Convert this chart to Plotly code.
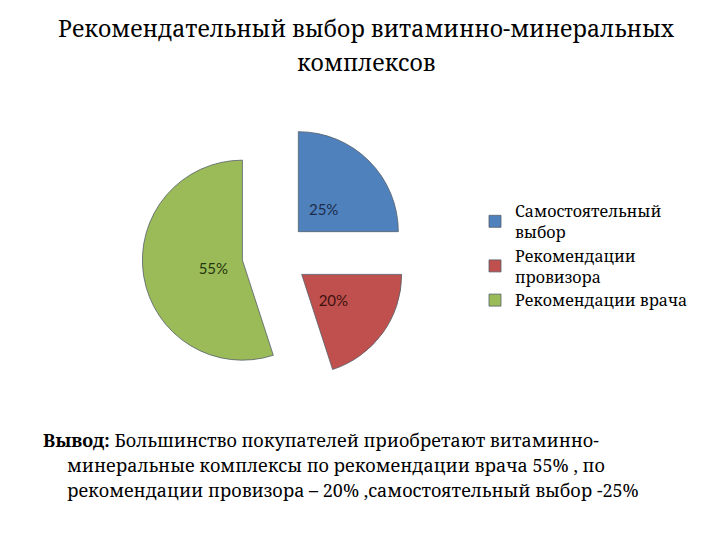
import plotly.graph_objects as go

# slice data
labels = ["Самостоятельный<br>выбор", "Рекомендации<br>провизора", "Рекомендации врача"]
shares = [25, 20, 55]
colors = ["#4F81BD", "#C0504D", "#9BBB59"]
text_colors = ["#1C2C4A", "#3E1010", "#26360C"]

title_lines = ["Рекомендательный выбор витаминно-минеральных", "комплексов"]
conclusion_lines = [
    "<b>Вывод:</b> Большинство покупателей приобретают витаминно-",
    "минеральные комплексы по рекомендации врача 55% , по",
    "рекомендации провизора – 20% ,самостоятельный выбор -25%",
]

W, H = 720, 540
OFF = 8  # page body margin of the html page
SERIF = "Noto Serif"
PULL = 0.33


def px_domain(cx, cy, half):
    cx, cy = cx - OFF, cy - OFF
    return dict(x=[(cx - half) / W, (cx + half) / W],
                y=[1 - (cy + half) / H, 1 - (cy - half) / H])


def px_x(x):
    return (x - OFF) / W


def px_y(y):
    return 1 - (y - OFF) / H


fig = go.Figure()
# coloured slices
fig.add_trace(go.Pie(
    labels=labels,
    values=shares,
    sort=False,
    direction="clockwise",
    rotation=0,
    pull=[PULL] * 3,
    marker=dict(colors=colors, line=dict(color="#55606A", width=0.8)),
    textinfo="none",
    domain=px_domain(275, 255, 133),
    hoverinfo="label+percent",
))
# percent labels, drawn by a transparent, smaller copy of the same pie
fig.add_trace(go.Pie(
    labels=labels,
    values=shares,
    sort=False,
    direction="clockwise",
    rotation=0,
    pull=[PULL] * 3,
    marker=dict(colors=["rgba(0,0,0,0)"] * 3, line=dict(width=0)),
    textinfo="percent",
    textposition="inside",
    insidetextorientation="horizontal",
    insidetextfont=dict(family="Lato", size=15, color=text_colors),
    domain=px_domain(275, 258, 100),
    showlegend=False,
    hoverinfo="skip",
))

# title
for line, y0 in zip(title_lines, [28, 62]):
    fig.add_annotation(
        text=line, x=px_x(366), y=px_y(y0), xref="paper", yref="paper",
        xanchor="center", yanchor="middle", showarrow=False,
        font=dict(family=SERIF, size=23, color="#000000"),
    )

# conclusion text under the chart (hanging indent)
indents = [41, 65, 65]
tops = [440, 465, 490]
for line, x0, y0 in zip(conclusion_lines, indents, tops):
    fig.add_annotation(
        text=line, x=px_x(x0), y=px_y(y0), xref="paper", yref="paper",
        xanchor="left", yanchor="middle", showarrow=False,
        font=dict(family=SERIF, size=18, color="#000000"),
    )

fig.update_layout(
    width=W, height=H,
    margin=dict(l=0, r=0, t=0, b=0),
    paper_bgcolor="white",
    plot_bgcolor="white",
    legend=dict(
        x=467 / W, y=1 - 186 / H, xanchor="left", yanchor="top",
        font=dict(family=SERIF, size=16, color="#000000"),
        itemwidth=30, tracegroupgap=0,
        bgcolor="rgba(0,0,0,0)",
    ),
    showlegend=True,
)

fig.write_html("out.html")
